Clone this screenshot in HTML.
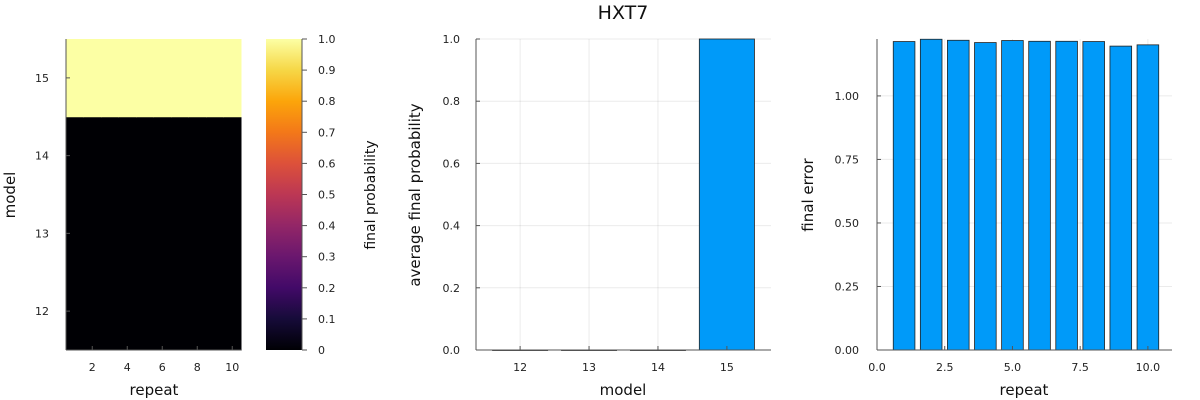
<!DOCTYPE html>
<html><head><meta charset="utf-8"><style>
body{margin:0;background:#fff;}
svg{display:block;font-family:"DejaVu Sans","Liberation Sans",sans-serif;}
.tk{font-size:11px;fill:#222;}
.lb{font-size:15px;fill:#111;}
</style></head><body>
<svg id="c" width="1200" height="400" viewBox="0 0 1200 400">
<defs>
<linearGradient id="inferno" x1="0" y1="1" x2="0" y2="0">
<stop offset="0" stop-color="#000004"/><stop offset="0.1" stop-color="#160b39"/><stop offset="0.2" stop-color="#420a68"/><stop offset="0.3" stop-color="#6a176e"/><stop offset="0.4" stop-color="#932667"/><stop offset="0.5" stop-color="#bc3754"/><stop offset="0.6" stop-color="#dd513a"/><stop offset="0.7" stop-color="#f37819"/><stop offset="0.8" stop-color="#fca50a"/><stop offset="0.9" stop-color="#f6d746"/><stop offset="1" stop-color="#fcffa4"/>
</linearGradient>
</defs>
<text x="623" y="19" text-anchor="middle" font-size="19" fill="#111">HXT7</text>
</svg>
<script>
// heatmap data
const hmRepeats=[1,2,3,4,5,6,7,8,9,10];
const hmModels=[12,13,14,15];
const hmValues=[[0,0,0,0,0,0,0,0,0,0],[0,0,0,0,0,0,0,0,0,0],[0,0,0,0,0,0,0,0,0,0],[1,1,1,1,1,1,1,1,1,1]];
const hmXTicks=[2,4,6,8,10];
const cbTicks=[0,0.1,0.2,0.3,0.4,0.5,0.6,0.7,0.8,0.9,1.0];
const cbTickLabels=["0","0.1","0.2","0.3","0.4","0.5","0.6","0.7","0.8","0.9","1.0"];
// middle bar data
const midModels=[12,13,14,15];
const midValues=[0.0,0.0,0.0,1.0];
const midYTicks=[0,0.2,0.4,0.6,0.8,1.0];
const midYTickLabels=["0.0","0.2","0.4","0.6","0.8","1.0"];
// right bar data
const errRepeats=[1,2,3,4,5,6,7,8,9,10];
const errValues=[1.214,1.223,1.219,1.210,1.218,1.215,1.215,1.214,1.196,1.201];
const errXTicks=[0,2.5,5,7.5,10];
const errXTickLabels=["0.0","2.5","5.0","7.5","10.0"];
const errYTicks=[0,0.25,0.5,0.75,1.0];
const errYTickLabels=["0.00","0.25","0.50","0.75","1.00"];

const svg=document.getElementById('c');
const NS='http://www.w3.org/2000/svg';
function mk(tag,attrs,parent){const e=document.createElementNS(NS,tag);for(const k in attrs)e.setAttribute(k,attrs[k]);(parent||svg).appendChild(e);return e;}
function txt(x,y,s,cls,anchor,rot){const t=mk('text',{x:x,y:y,class:cls,'text-anchor':anchor||'middle'});if(rot)t.setAttribute('transform','rotate(-90 '+x+' '+y+')');t.textContent=s;return t;}
function lin(d0,d1,r0,r1){return v=>r0+(v-d0)*(r1-r0)/(d1-d0);}
function infernoColor(v){return v>=0.5?'#fcffa4':'#000004';}

// ===== heatmap =====
const hx=lin(0.5,10.5,66,241), hy=lin(11.5,15.5,350,39);
const hg=mk('g',{});


hmModels.forEach((m,i)=>hmRepeats.forEach((r,j)=>{
  const c=mk('rect',{x:hx(r-0.5),y:hy(m+0.5),width:hx(r+0.5)-hx(r-0.5)+0.5,height:hy(m-0.5)-hy(m+0.5)+0.5,fill:infernoColor(hmValues[i][j])},hg);
  
  
}));
mk('line',{x1:66,y1:39,x2:66,y2:350,stroke:'#555'});
mk('line',{x1:66,y1:350,x2:241,y2:350,stroke:'#555'});
hmXTicks.forEach(v=>{mk('line',{x1:hx(v),y1:350,x2:hx(v),y2:346,stroke:'#555'});const t=txt(hx(v),371,String(v),'tk');});
hmModels.forEach(v=>{mk('line',{x1:66,y1:hy(v),x2:70,y2:hy(v),stroke:'#555'});const t=txt(49,hy(v)+4,String(v),'tk','end');});
let t=txt(154,395,'repeat','lb');
t=txt(15,195,'model','lb','middle',true);
// colorbar
const cy=lin(0,1,350,39);
const cb=mk('rect',{x:266,y:39,width:36,height:311,fill:'url(#inferno)'});


mk('line',{x1:302,y1:39,x2:302,y2:350,stroke:'#555'});
cbTicks.forEach((v,i)=>{mk('line',{x1:302,y1:cy(v),x2:307,y2:cy(v),stroke:'#555'});const tt=txt(318,cy(v)+4,cbTickLabels[i],'tk','start');});
t=txt(375,195,'final probability','lb','middle',true);t.style.fontSize='14px';

// ===== middle bar chart =====
const mx=lin(11.36,15.64,476,771), my=lin(0,1,350,39);
midYTicks.forEach(v=>mk('line',{x1:476,y1:my(v),x2:771,y2:my(v),stroke:'#000','stroke-opacity':0.08}));
midModels.forEach(v=>mk('line',{x1:mx(v),y1:39,x2:mx(v),y2:350,stroke:'#000','stroke-opacity':0.08}));
midModels.forEach((m,i)=>{const b=mk('rect',{x:mx(m-0.4),y:my(midValues[i]),width:mx(m+0.4)-mx(m-0.4),height:Math.max(my(0)-my(midValues[i]),0.5),fill:'#009af9',stroke:'#222','stroke-width':0.8});
  
  });
mk('line',{x1:476,y1:39,x2:476,y2:350,stroke:'#555'});
mk('line',{x1:476,y1:350,x2:771,y2:350,stroke:'#555'});
midModels.forEach(v=>{mk('line',{x1:mx(v),y1:350,x2:mx(v),y2:346,stroke:'#555'});const tt=txt(mx(v),371,String(v),'tk');});
midYTicks.forEach((v,i)=>{mk('line',{x1:476,y1:my(v),x2:480,y2:my(v),stroke:'#555'});const tt=txt(460,my(v)+4,midYTickLabels[i],'tk','end');});
t=txt(623,395,'model','lb');
t=txt(420,195,'average final probability','lb','middle',true);

// ===== right bar chart =====
const rx=lin(0,10.89,877,1172), ry=lin(0,1.224,350,39);
errYTicks.forEach(v=>mk('line',{x1:877,y1:ry(v),x2:1172,y2:ry(v),stroke:'#000','stroke-opacity':0.08}));
errXTicks.forEach(v=>mk('line',{x1:rx(v),y1:39,x2:rx(v),y2:350,stroke:'#000','stroke-opacity':0.08}));
errRepeats.forEach((r,i)=>{const b=mk('rect',{x:rx(r-0.4),y:ry(errValues[i]),width:rx(r+0.4)-rx(r-0.4),height:ry(0)-ry(errValues[i]),fill:'#009af9',stroke:'#222','stroke-width':0.8});
  
  });
mk('line',{x1:877,y1:39,x2:877,y2:350,stroke:'#555'});
mk('line',{x1:877,y1:350,x2:1172,y2:350,stroke:'#555'});
errXTicks.forEach((v,i)=>{mk('line',{x1:rx(v),y1:350,x2:rx(v),y2:346,stroke:'#555'});const tt=txt(rx(v),371,errXTickLabels[i],'tk');});
errYTicks.forEach((v,i)=>{mk('line',{x1:877,y1:ry(v),x2:881,y2:ry(v),stroke:'#555'});const tt=txt(859,ry(v)+4,errYTickLabels[i],'tk','end');});
t=txt(1024,395,'repeat','lb');
t=txt(813,195,'final error','lb','middle',true);
</script>
</body></html>
